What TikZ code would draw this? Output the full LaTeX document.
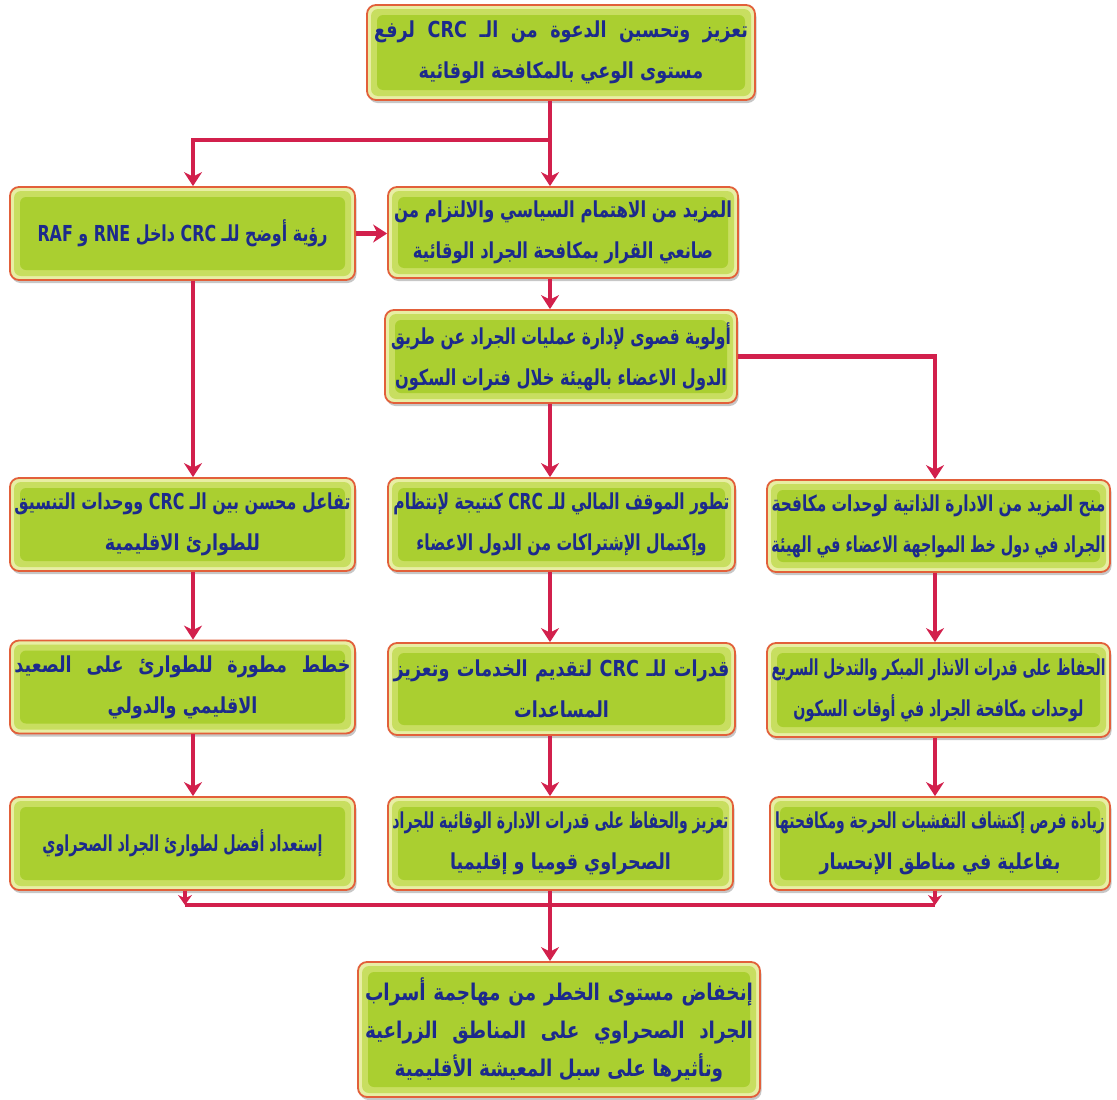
\documentclass[tikz,border=0pt]{standalone}
\usepackage{fontspec}
\usepackage{graphicx}
\usetikzlibrary{arrows.meta,shadows,calc}
\newfontfamily\arabicfont[Script=Arabic]{DejaVu Sans}
\TeXXeTstate=1
\definecolor{boxborder}{HTML}{E2603A}
\definecolor{boxout}{HTML}{E8EEA4}
\definecolor{boxmid}{HTML}{C8DE60}
\definecolor{boxin}{HTML}{AACF30}
\definecolor{txtblue}{HTML}{1C2A8C}
\definecolor{arrred}{HTML}{D2204C}
\newsavebox\lnbox
\newlength\lnw
\def\hsc{0.8}
% #2 is a complete line already wrapped in \beginR ... \endR
% justified line: condensed by \hsc, then squeezed or spread to width #1
\newcommand\jl[2]{\sbox\lnbox{\scalebox{\hsc}[1]{#2}}\ifdim\wd\lnbox>#1\relax\resizebox{#1}{\height}{\usebox\lnbox}\else\setlength\lnw{#1}\setlength\lnw{1.25\lnw}\scalebox{\hsc}[1]{\makebox[\lnw][s]{#2}}\fi}
% centred line: condensed by \hsc, squeezed if still too wide
\newcommand\cl[2]{\sbox\lnbox{\scalebox{\hsc}[1]{#2}}\ifdim\wd\lnbox>#1\relax\resizebox{#1}{\height}{\usebox\lnbox}\else\usebox\lnbox\fi}
\newcommand\LT[1]{\beginL #1\endL{}}
\begin{document}
\begin{tikzpicture}[x=1pt,y=-1pt,
  bx/.style={draw=boxborder, line width=1.8pt, rounded corners=9pt, fill=boxout,
    inner sep=0pt, text=txtblue, align=center,
    font=\arabicfont\bfseries\fontsize{22}{41}\selectfont,
    drop shadow={opacity=0.22, shadow xshift=1.5pt, shadow yshift=-3pt, fill=black},
    path picture={
      \fill[boxmid, rounded corners=7pt] ([shift={(4pt,-4pt)}]path picture bounding box.north west) rectangle ([shift={(-4pt,4pt)}]path picture bounding box.south east);
      \fill[boxin, rounded corners=6pt] ([shift={(10pt,-10pt)}]path picture bounding box.north west) rectangle ([shift={(-10pt,10pt)}]path picture bounding box.south east);
    }},
  ln/.style={draw=arrred, line width=4.5pt},
  arr/.style={ln, -{Stealth[length=14pt,width=18pt]}},
  sarr/.style={ln, -{Stealth[length=10pt,width=14pt]}}]
\useasboundingbox[fill=white] (0,0) rectangle (1117,1100);

% column guides
\coordinate (xL) at (193,0);
\coordinate (xLb) at (185,0);
\coordinate (xM) at (550,0);
\coordinate (xR) at (935,0);
\coordinate (jt) at (550,140);
\coordinate (jb) at (550,905);

% boxes
\node[bx, minimum width=388pt, minimum height=95pt] (T) at (561,52.5)
  {\jl{374pt}{\beginR تعزيز وتحسين الدعوة من الـ \LT{CRC} لرفع\endR}\\ \cl{374pt}{\beginR مستوى الوعي بالمكافحة الوقائية\endR}};

\node[bx, minimum width=345pt, minimum height=93pt] (L2) at (182.5,233.5)
  {\cl{290pt}{\beginR رؤية أوضح للـ \LT{CRC} داخل \LT{RNE} و \LT{RAF}\endR}};

\node[bx, minimum width=350pt, minimum height=91pt] (M2) at (563,232.5)
  {\jl{338pt}{\beginR المزيد من الاهتمام السياسي والالتزام من\endR}\\ \cl{300pt}{\beginR صانعي القرار بمكافحة الجراد الوقائية\endR}};

\node[bx, minimum width=352pt, minimum height=93pt] (M3) at (561,356.5)
  {\jl{340pt}{\beginR أولوية قصوى لإدارة عمليات الجراد عن طريق\endR}\\ \jl{332pt}{\beginR الدول الاعضاء بالهيئة خلال فترات السكون\endR}};

\node[bx, minimum width=345pt, minimum height=93pt] (L4) at (182.5,524.5)
  {\jl{336pt}{\beginR تفاعل محسن بين الـ \LT{CRC} ووحدات التنسيق\endR}\\ \cl{336pt}{\beginR للطوارئ الاقليمية\endR}};

\node[bx, minimum width=347pt, minimum height=93pt] (M4) at (561.5,524.5)
  {\jl{336pt}{\beginR تطور الموقف المالي للـ \LT{CRC} كنتيجة لإنتظام\endR}\\ \cl{290pt}{\beginR وإكتمال الإشتراكات من الدول الاعضاء\endR}};

\node[bx, minimum width=343pt, minimum height=92pt] (R4) at (938.5,526)
  {\jl{334pt}{\beginR منح المزيد من الادارة الذاتية لوحدات مكافحة\endR}\\ \jl{334pt}{\beginR الجراد في دول خط المواجهة الاعضاء في الهيئة\endR}};

\node[bx, minimum width=345pt, minimum height=93pt] (L5) at (182.5,687)
  {\jl{336pt}{\beginR خطط مطورة للطوارئ على الصعيد\endR}\\ \cl{336pt}{\beginR الاقليمي والدولي\endR}};

\node[bx, minimum width=347pt, minimum height=92pt] (M5) at (561.5,689)
  {\jl{336pt}{\beginR قدرات للـ \LT{CRC} لتقديم الخدمات وتعزيز\endR}\\ \cl{336pt}{\beginR المساعدات\endR}};

\node[bx, minimum width=343pt, minimum height=94pt] (R5) at (938.5,690)
  {\jl{334pt}{\beginR الحفاظ على قدرات الانذار المبكر والتدخل السريع\endR}\\ \cl{290pt}{\beginR لوحدات مكافحة الجراد في أوقات السكون\endR}};

\node[bx, minimum width=345pt, minimum height=93pt] (L6) at (182.5,843.5)
  {\cl{280pt}{\beginR إستعداد أفضل لطوارئ الجراد الصحراوي\endR}};

\node[bx, minimum width=345pt, minimum height=93pt] (M6) at (560.5,843.5)
  {\jl{336pt}{\beginR تعزيز والحفاظ على قدرات الادارة الوقائية للجراد\endR}\\ \cl{300pt}{\beginR الصحراوي قوميا و إقليميا\endR}};

\node[bx, minimum width=340pt, minimum height=93pt] (R6) at (940,843.5)
  {\jl{330pt}{\beginR زيادة فرص إكتشاف التفشيات الحرجة ومكافحتها\endR}\\ \cl{300pt}{\beginR بفاعلية في مناطق الإنحسار\endR}};

\node[bx, minimum width=402pt, minimum height=135pt, font=\arabicfont\bfseries\fontsize{23}{38}\selectfont] (B) at (559,1029.5)
  {\jl{388pt}{\beginR إنخفاض مستوى الخطر من مهاجمة أسراب\endR}\\ \jl{388pt}{\beginR الجراد الصحراوي على المناطق الزراعية\endR}\\ \cl{388pt}{\beginR وتأثيرها على سبل المعيشة الأقليمية\endR}};

% connectors
\draw[ln] (T.south -| xM) -- (jt);
\draw[arr] (jt) -| (L2.north -| xL);
\draw[arr] (jt) -- (M2.north -| xM);
\draw[arr] (L2.east) -- (M2.west |- L2.east);
\draw[arr] (M2.south -| xM) -- (M3.north -| xM);
\draw[arr] (M3.south -| xM) -- (M4.north -| xM);
\draw[arr] (M3.east) -| (R4.north -| xR);
\draw[arr] (L2.south -| xL) -- (L4.north -| xL);
\draw[arr] (L4.south -| xL) -- (L5.north -| xL);
\draw[arr] (L5.south -| xL) -- (L6.north -| xL);
\draw[arr] (M4.south -| xM) -- (M5.north -| xM);
\draw[arr] (M5.south -| xM) -- (M6.north -| xM);
\draw[arr] (R4.south -| xR) -- (R5.north -| xR);
\draw[arr] (R5.south -| xR) -- (R6.north -| xR);
\draw[ln] (xLb |- jb) -- (xR |- jb);
\draw[sarr] (L6.south -| xLb) -- (xLb |- jb);
\draw[sarr] (R6.south -| xR) -- (xR |- jb);
\draw[arr] (M6.south -| xM) -- (B.north -| xM);
\end{tikzpicture}
\end{document}
